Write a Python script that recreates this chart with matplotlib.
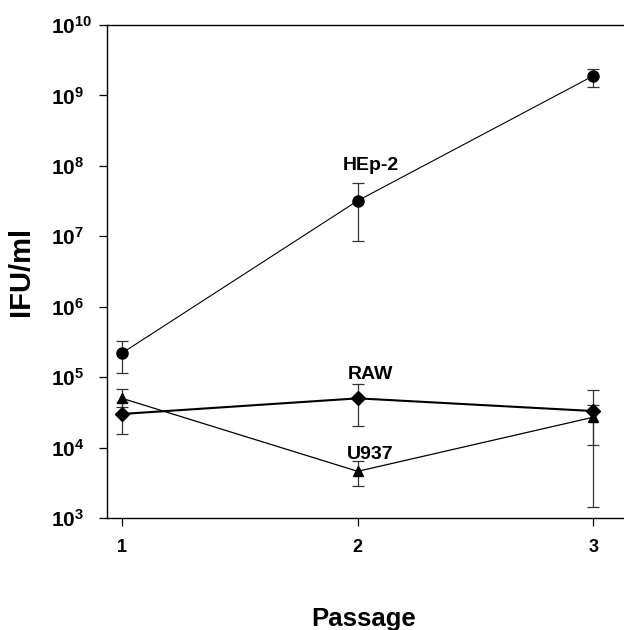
import matplotlib
matplotlib.use("Agg")
import matplotlib.pyplot as plt
import numpy as np
from matplotlib.ticker import FixedLocator, FuncFormatter

plt.rcParams['font.family'] = ['Liberation Sans', 'DejaVu Sans']
plt.rcParams['mathtext.fontset'] = 'custom'
plt.rcParams['mathtext.rm'] = 'Liberation Sans:bold'
plt.rcParams['mathtext.bf'] = 'Liberation Sans:bold'
plt.rcParams['mathtext.it'] = 'Liberation Sans:bold'

# Data
passage = [1, 2, 3]
hep2 = [2.2e5, 3.2e7, 1.9e9]
hep2_lo = [1.16e5, 8.7e6, 1.3e9]
hep2_hi = [3.3e5, 5.7e7, 2.4e9]
raw = [3.0e4, 5.0e4, 3.3e4]
raw_lo = [1.55e4, 2.0e4, 1.1e4]
raw_hi = [4.5e4, 7.9e4, 6.5e4]
u937 = [5.0e4, 4.6e3, 2.7e4]
u937_lo = [3.8e4, 2.85e3, 1.45e3]
u937_hi = [6.7e4, 6.4e3, 4.0e4]
series_labels = ['HEp-2', 'RAW', 'U937']
label_pos = [(2.055, 10**7.94), (2.055, 10**4.97), (2.055, 10**3.84)]
yticks = [1e3, 1e4, 1e5, 1e6, 1e7, 1e8, 1e9, 1e10]
xticks = [1, 2, 3]

fig = plt.figure(figsize=(6.24, 6.30), dpi=100)
ax = fig.add_axes([107/624, 1 - 518/630, 1 - 107/624, (518 - 25)/630])
ax.set_yscale('log')
ax.set_ylim(1e3, 1e10)
ax.set_xlim(0.936, 3.13)

def yerr(v, lo, hi):
    v = np.array(v); lo = np.array(lo); hi = np.array(hi)
    return [v - lo, hi - v]

ecol = '#333333'
ax.errorbar(passage, hep2, yerr=yerr(hep2, hep2_lo, hep2_hi), fmt='o-', color='black',
            ms=8, lw=0.8, ecolor=ecol, elinewidth=0.9, capsize=4, capthick=0.9, zorder=3)
ax.errorbar(passage, raw, yerr=yerr(raw, raw_lo, raw_hi), fmt='D-', color='black',
            ms=7.5, lw=1.5, ecolor=ecol, elinewidth=0.9, capsize=4, capthick=0.9, zorder=3)
ax.errorbar(passage, u937, yerr=yerr(u937, u937_lo, u937_hi), fmt='^-', color='black',
            ms=7.5, lw=0.9, ecolor=ecol, elinewidth=0.9, capsize=4, capthick=0.9, zorder=3)

for lab, (x, y) in zip(series_labels, label_pos):
    ax.text(x, y, lab, ha='center', va='baseline', fontsize=14, fontweight='bold')

ax.yaxis.set_major_locator(FixedLocator(yticks))
ax.yaxis.set_minor_locator(FixedLocator([]))
ax.yaxis.set_major_formatter(FuncFormatter(lambda v, p: r'$\mathbf{10^{%d}}$' % int(round(np.log10(v)))))
ax.set_xticks(xticks)
ax.set_xticklabels([str(x) for x in xticks])

ax.tick_params(axis='y', direction='out', length=6, width=0.9, pad=34, labelsize=15)
ax.tick_params(axis='x', direction='out', length=6, width=0.9, pad=9, labelsize=13)
for t in ax.get_yticklabels():
    t.set_horizontalalignment('left')
for t in ax.get_xticklabels():
    t.set_fontweight('bold')

ax.spines['right'].set_visible(False)
for s in ['left', 'bottom', 'top']:
    ax.spines[s].set_linewidth(1.0)

ax.set_xlabel('Passage', fontsize=18.5, fontweight='bold')
ax.set_ylabel('IFU/ml', fontsize=21, fontweight='bold')
ax.xaxis.set_label_coords(0.497, -0.180)
ax.yaxis.set_label_coords(-0.139, 0.5)
ax.xaxis.label.set_va('top')

fig.savefig('out.png', dpi=100)
